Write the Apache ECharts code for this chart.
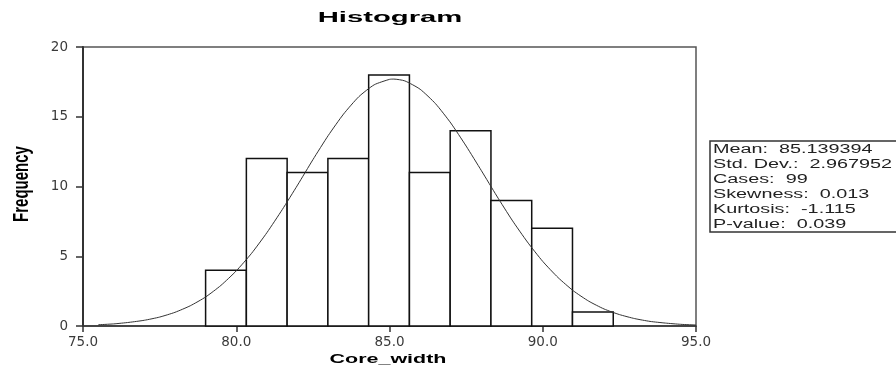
<!DOCTYPE html>
<html>
<head>
<meta charset="utf-8">
<script src="https://cdn.jsdelivr.net/npm/echarts@6/dist/echarts.min.js"></script>
<style>
html,body{margin:0;padding:0;background:#fff;}
#chart{width:896px;height:367px;}
</style>
</head>
<body>
<div id="chart"></div>
<script>
// ---- data ----
var binEdges = [79.0, 80.33, 81.66, 82.99, 84.32, 85.65, 86.98, 88.31, 89.64, 90.97, 92.3];
var counts = [4, 12, 11, 12, 18, 11, 14, 9, 7, 1];
var curveX = [75.5, 76, 76.5, 77, 77.5, 78, 78.5, 79, 79.5, 80, 80.5, 81, 81.5, 82, 82.5, 83, 83.5, 84, 84.5, 85, 85.14, 85.5, 86, 86.5, 87, 87.5, 88, 88.5, 89, 89.5, 90, 90.5, 91, 91.5, 92, 92.5, 93, 93.5, 94, 94.5, 95];
var curveY = [0.09, 0.15, 0.26, 0.41, 0.64, 0.98, 1.45, 2.08, 2.91, 3.95, 5.21, 6.69, 8.34, 10.1, 11.92, 13.65, 15.19, 16.44, 17.29, 17.68, 17.7, 17.57, 16.97, 15.94, 14.55, 12.9, 11.13, 9.32, 7.59, 6.02, 4.63, 3.47, 2.52, 1.78, 1.22, 0.82, 0.53, 0.33, 0.21, 0.12, 0.07];
var xTicks = [75, 80, 85, 90, 95];
var yTicks = [0, 5, 10, 15, 20];
var statLabels = ['Mean:', 'Std. Dev.:', 'Cases:', 'Skewness:', 'Kurtosis:', 'P-value:'];
var statValues = ['85.139394', '2.967952', '99', '0.013', '-1.115', '0.039'];
var titleText = 'Histogram';
var xName = 'Core_width';
var yName = 'Frequency';

var bins = counts.map(function (c, i) { return [binEdges[i], binEdges[i + 1], c]; });
var curve = curveX.map(function (x, i) { return [x, curveY[i]]; });

var chart = echarts.init(document.getElementById('chart'));
var statsText = statLabels.map(function (l, i) { return l + '  ' + statValues[i]; }).join('\n');

var option = {
  animation: false,
  backgroundColor: '#fff',
  grid: { left: 83, right: 200, top: 47, bottom: 41, show: true, borderColor: '#555', borderWidth: 1.5, backgroundColor: 'transparent' },
  xAxis: {
    type: 'value', min: xTicks[0], max: xTicks[xTicks.length - 1], interval: 5,
    axisLine: { show: true, onZero: false, lineStyle: { color: '#333', width: 1.5 } },
    axisTick: { show: true, length: 6, inside: false, lineStyle: { color: '#333', width: 1.5 } },
    axisLabel: { margin: 9, color: '#3a3a3a', fontFamily: 'DejaVu Sans', fontSize: 13.5, formatter: function (v) { return v.toFixed(1); } },
    splitLine: { show: false }
  },
  yAxis: {
    type: 'value', min: yTicks[0], max: yTicks[yTicks.length - 1], interval: 5,
    axisLine: { show: true, lineStyle: { color: '#333', width: 2 } },
    axisTick: { show: true, length: 7, inside: false, lineStyle: { color: '#333', width: 1.5 } },
    axisLabel: { margin: 15, color: '#3a3a3a', fontFamily: 'DejaVu Sans', fontSize: 13.5 },
    splitLine: { show: false }
  },
  series: [
    {
      type: 'custom',
      data: bins,
      encode: { x: [0, 1], y: 2 },
      z: 2,
      renderItem: function (params, api) {
        var p0 = api.coord([api.value(0), api.value(2)]);
        var p1 = api.coord([api.value(1), 0]);
        return {
          type: 'rect',
          shape: { x: p0[0], y: p0[1], width: p1[0] - p0[0], height: p1[1] - p0[1] },
          style: { fill: '#fff', stroke: '#111', lineWidth: 1.5 }
        };
      }
    },
    {
      type: 'line',
      data: curve,
      smooth: 0.2,
      showSymbol: false,
      z: 3,
      lineStyle: { color: '#333', width: 1 }
    }
  ],
  graphic: [
    {
      type: 'text', x: 390, y: 18, scaleX: 1.95, z: 10,
      style: { text: titleText, fill: '#000', font: 'bold 15px "Liberation Sans", Arial, sans-serif', textAlign: 'center', textVerticalAlign: 'middle' }
    },
    {
      type: 'text', x: 388, y: 359, scaleX: 1.65, z: 10,
      style: { text: xName, fill: '#000', font: 'bold 13px "Liberation Sans", Arial, sans-serif', textAlign: 'center', textVerticalAlign: 'middle' }
    },
    {
      type: 'text', x: 22, y: 184, rotation: Math.PI / 2, scaleY: 1.45, z: 10,
      style: { text: yName, fill: '#000', font: 'bold 15px "Liberation Sans", Arial, sans-serif', textAlign: 'center', textVerticalAlign: 'middle' }
    },
    {
      type: 'rect', x: 710, y: 141, z: 10,
      shape: { x: 0, y: 0, width: 200, height: 91 },
      style: { fill: '#fff', stroke: '#333', lineWidth: 1.5 }
    },
    {
      type: 'text', x: 713, y: 142, scaleX: 1.65, z: 11,
      style: { text: statsText, fill: '#222', font: '12px "Liberation Sans", Arial, sans-serif', lineHeight: 15, textAlign: 'left', textVerticalAlign: 'top' }
    }
  ]
};
chart.setOption(option);
</script>
</body>
</html>
